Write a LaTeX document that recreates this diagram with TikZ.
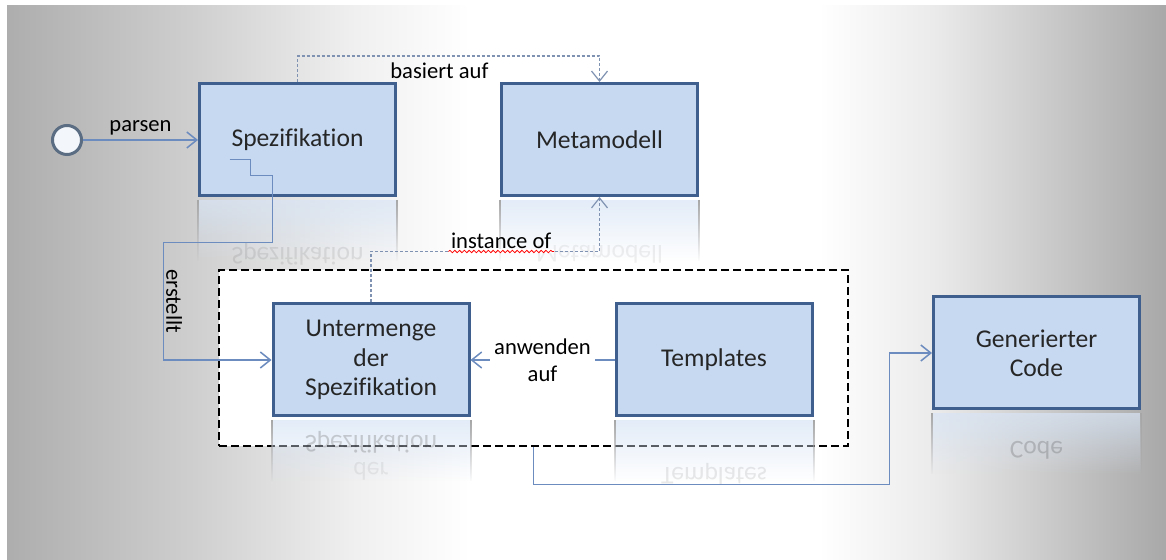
\documentclass[tikz,border=0pt]{standalone}
\usepackage{fontspec}
\setmainfont{Carlito}[Ligatures=NoCommon]
\usetikzlibrary{arrows.meta,positioning,fadings,decorations.pathmorphing}
\definecolor{boxfill}{HTML}{C6D9F1}
\definecolor{boxline}{HTML}{3F5F8E}
\definecolor{conncol}{HTML}{6C8BBE}
\definecolor{dashcol}{HTML}{7F92B2}
\definecolor{startline}{HTML}{5B6D82}
\definecolor{startfill}{HTML}{F3F6FB}
\definecolor{boxtext}{HTML}{262626}
\pgfdeclarehorizontalshading{bgshade}{100bp}{color(0bp)=(black!32); color(25bp)=(black!32);
  color(33bp)=(black!19); color(40bp)=(black!6); color(45bp)=(white); color(60bp)=(white);
  color(65bp)=(black!8); color(70bp)=(black!21); color(75bp)=(black!34); color(100bp)=(black!34)}

\begin{document}
\begin{tikzpicture}[x=0.5pt,y=-0.5pt,
    block/.style={rectangle,draw=boxline,line width=1.5pt,fill=boxfill,text=boxtext,
                  minimum width=98pt,minimum height=56pt,align=center,
                  font=\fontsize{12.8}{14.7}\selectfont},
    start node/.style={circle,draw=startline,line width=1.5pt,fill=startfill,
                       minimum size=14.5pt,inner sep=0pt},
    group/.style={draw=black,line width=1.4pt,dash pattern=on 4pt off 2pt,fill=white,
                  minimum width=314.5pt,minimum height=88pt},
    conn/.style={draw=conncol,line width=.75pt,-{Straight Barb[length=5pt,width=8pt]}},
    dconn/.style={draw=dashcol,line width=.6pt,dash pattern=on 1.5pt off 1pt,
                  -{Straight Barb[length=5pt,width=8pt]}},
    lbl/.style={font=\fontsize{11.3}{13.5}\selectfont,text=black,inner sep=1pt},
    mirror/.style={yscale=-1,transform shape,font=\fontsize{12.8}{14.7}\selectfont,text=boxtext},
    glow/.style={fill=boxfill!70!white,path fading=south,fill opacity=.7}]

  \useasboundingbox (0,0) rectangle (1166,560);
  \shade[shading=bgshade] (7,6) rectangle (1166,560);

  \node[group] (grp) at (533.5,358) {};

  \node[block] (spez) at (297.5,139.5) {Spezifikation};
  \node[block,right=51.5pt of spez] (meta) {Metamodell};
  \node[block] (unter) at (371,360) {Untermenge\\der\\Spezifikation};
  \node[block,right=72pt of unter] (templ) {Templates};
  \node[block,minimum width=103pt] (gen) at (1036.5,353) {Generierter\\Code};
  \node[start node] (start) at (67,140) {};

  \foreach \b in {spez,meta,unter,templ,gen}{
    \fill[glow] ([yshift=-1.5pt]\b.south west) rectangle ([yshift=-32pt]\b.south east);
    \draw[gray!70,line width=1pt,path fading=south]
      ([yshift=-1.5pt]\b.south west) -- ([yshift=-32pt]\b.south west)
      ([yshift=-1.5pt]\b.south east) -- ([yshift=-32pt]\b.south east);
  }
  \node[mirror,text opacity=.1] at (297.5,254) {Spezifikation};
  \node[mirror,text opacity=.07] at (599.5,254) {Metamodell};
  \node[mirror,text opacity=.2] at (371,442) {Spezifikation};
  \node[mirror,text opacity=.07] at (371,471) {der};
  \node[mirror,text opacity=.1] at (714,474) {Templates};
  \node[mirror,text opacity=.2] at (1036.5,450) {Code};

  \draw[conn] (start) -- node[lbl,above=1pt] {parsen} (spez.west |- start);
  \draw[dconn] (spez.north) -- ++(0,-26) -| node[lbl,pos=.235,below=2pt] {basiert auf} (meta.north);
  \draw[dconn] (unter.north) -- ++(0,-51) -| node[lbl,pos=.285,anchor=south] (inst) {instance of} (meta.south);
  \draw[white,line width=2pt] (inst.south west) -- (inst.south east);
  \draw[red,decorate,decoration={snake,amplitude=.6pt,segment length=2.4pt}]
    (inst.south west) -- (inst.south east);

  \coordinate (ers) at ([xshift=-34pt,yshift=-10pt]spez.center);
  \draw[conn] (ers) -- ++(21,0) -- ++(0,16) -- ++(22,0) |- ++(-109,67)
    |- node[lbl,pos=.25,rotate=-90,anchor=south] {erstellt} (unter.west);
  \draw[conn] (templ) -- node[lbl,fill=white,align=center,inner sep=2pt] {anwenden\\auf} (unter);
  \draw[conn] (grp.south) |- ++(356,37) |- (gen.west);
\end{tikzpicture}
\end{document}
